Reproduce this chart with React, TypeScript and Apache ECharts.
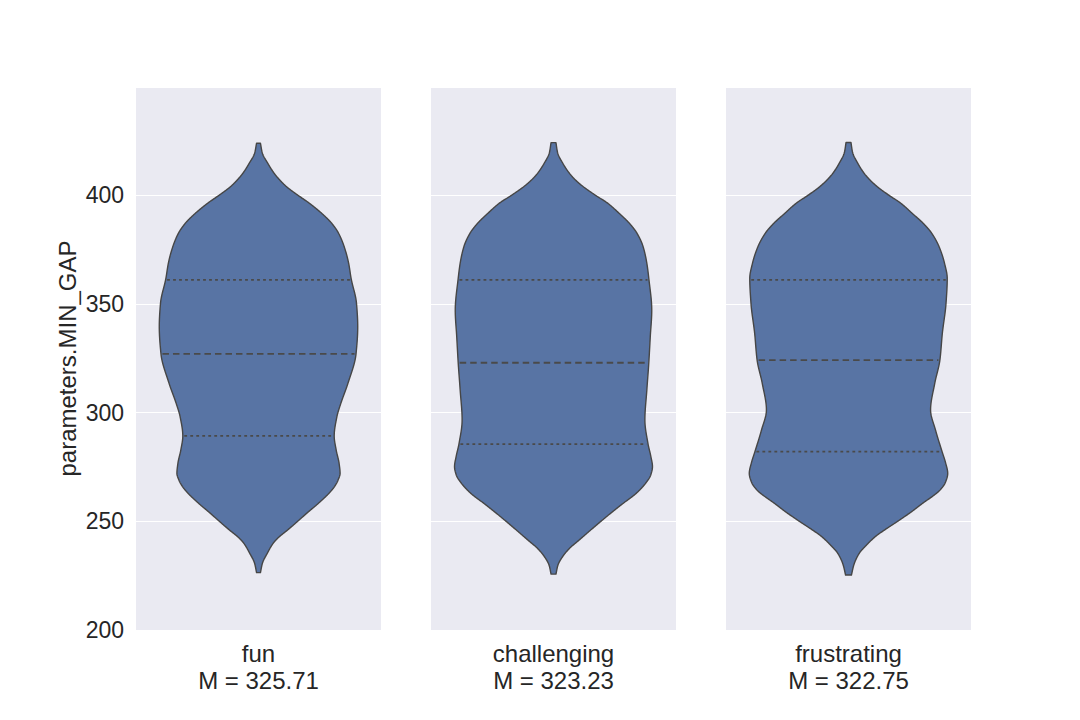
import React, { useEffect, useRef } from 'react';
import * as echarts from 'echarts';

const categories = ['fun', 'challenging', 'frustrating'];
const means = [325.71, 323.23, 322.75];
const yAxisName = 'parameters.MIN_GAP';

// violin outlines: y values and half-widths (fraction of the category band)
const funY = [226.4, 230.7, 235.3, 239.9, 242.9, 246.0, 250.3, 253.7, 258.3, 262.9, 265.9, 269.0, 272.0, 276.6, 282.8, 289.2, 298.1, 304.2, 313.4, 326.9, 339.5, 350.2, 361.7, 368.6, 376.2, 382.4, 387.0, 391.6, 396.2, 400.0, 403.8, 406.9, 410.0, 414.6, 419.2, 423.8];
const funW = [0.008, 0.016, 0.036, 0.060, 0.085, 0.119, 0.163, 0.197, 0.245, 0.288, 0.310, 0.325, 0.333, 0.329, 0.317, 0.309, 0.320, 0.336, 0.365, 0.398, 0.405, 0.400, 0.378, 0.368, 0.350, 0.327, 0.299, 0.258, 0.208, 0.160, 0.115, 0.087, 0.064, 0.038, 0.016, 0.008];

const chalY = [225.7, 229.8, 233.7, 237.5, 241.4, 245.8, 250.3, 254.3, 258.3, 262.9, 267.5, 271.3, 275.1, 280.0, 285.5, 296.6, 310.4, 322.9, 334.9, 347.0, 361.7, 368.6, 376.2, 382.4, 387.0, 391.6, 396.2, 400.0, 403.8, 406.9, 410.0, 414.6, 419.4, 424.1];
const chalW = [0.010, 0.018, 0.037, 0.065, 0.105, 0.150, 0.197, 0.240, 0.285, 0.338, 0.376, 0.397, 0.404, 0.397, 0.386, 0.373, 0.381, 0.389, 0.395, 0.401, 0.389, 0.381, 0.366, 0.341, 0.310, 0.268, 0.222, 0.170, 0.122, 0.090, 0.065, 0.038, 0.017, 0.010];

const frusY = [225.3, 230.0, 235.3, 239.0, 242.9, 246.6, 250.3, 254.3, 258.3, 261.5, 264.4, 268.0, 272.0, 277.0, 282.0, 292.0, 301.2, 313.4, 324.1, 336.4, 350.2, 361.7, 368.6, 376.2, 382.4, 387.0, 391.6, 396.2, 400.0, 403.8, 406.9, 410.0, 414.6, 419.5, 424.2];
const frusW = [0.012, 0.022, 0.044, 0.073, 0.109, 0.155, 0.205, 0.256, 0.303, 0.343, 0.374, 0.396, 0.405, 0.396, 0.382, 0.355, 0.335, 0.352, 0.373, 0.383, 0.398, 0.403, 0.392, 0.370, 0.340, 0.305, 0.260, 0.214, 0.164, 0.118, 0.088, 0.064, 0.038, 0.017, 0.010];

// quartiles: [Q1, median, Q3]
const funQ = [289.3, 327.0, 361.0];
const chalQ = [285.5, 322.9, 361.0];
const frusQ = [282.0, 324.1, 361.0];

const profilesY = [funY, chalY, frusY];
const profilesW = [funW, chalW, frusW];
const quartiles = [funQ, chalQ, frusQ];

const Y_MIN = 200;
const Y_MAX = 449.7;
const Y_INTERVAL = 50;

const FONT = '"Liberation Sans", Arial, sans-serif';
const TEXT = '#262626';
const FILL = '#5874A4';
const EDGE = '#464646';

// monotone cubic (PCHIP) evaluation of the outline, for drawing a smooth edge
function makePchip(xs: number[], ys: number[]) {
  const n = xs.length;
  const h: number[] = [];
  const d: number[] = [];
  for (let k = 0; k < n - 1; k++) {
    h.push(xs[k + 1] - xs[k]);
    d.push((ys[k + 1] - ys[k]) / (xs[k + 1] - xs[k]));
  }
  const m: number[] = new Array(n).fill(0);
  m[0] = d[0];
  m[n - 1] = d[n - 2];
  for (let k = 1; k < n - 1; k++) {
    if (d[k - 1] * d[k] <= 0) m[k] = 0;
    else {
      const w1 = 2 * h[k] + h[k - 1];
      const w2 = h[k] + 2 * h[k - 1];
      m[k] = (w1 + w2) / (w1 / d[k - 1] + w2 / d[k]);
    }
  }
  return (x: number) => {
    let k = 0;
    if (x <= xs[0]) return ys[0];
    if (x >= xs[n - 1]) return ys[n - 1];
    while (k < n - 2 && x > xs[k + 1]) k++;
    const t = (x - xs[k]) / h[k];
    const t2 = t * t;
    const t3 = t2 * t;
    return (
      (2 * t3 - 3 * t2 + 1) * ys[k] +
      (t3 - 2 * t2 + t) * h[k] * m[k] +
      (-2 * t3 + 3 * t2) * ys[k + 1] +
      (t3 - t2) * h[k] * m[k + 1]
    );
  };
}

export default function App() {
  const ref = useRef<HTMLDivElement>(null);
  useEffect(() => {
    document.body.style.margin = '0';
    const chart = echarts.init(ref.current!, undefined, { renderer: 'svg' });
    const lefts = [136, 431, 726];
    const grids = lefts.map((l) => ({
      left: l,
      top: 87,
      width: 245,
      height: 543,
      show: true,
      backgroundColor: '#EAEAF2',
      borderWidth: 0,
    }));
    const xAxes = categories.map((c, i) => ({
      type: 'category',
      gridIndex: i,
      data: [`${c}\nM = ${means[i].toFixed(2)}`],
      axisLine: { show: false },
      axisTick: { show: false },
      axisLabel: {
        color: TEXT,
        fontFamily: FONT,
        fontSize: 24,
        lineHeight: 27,
        margin: 10,
        align: 'center',
      },
    }));
    const yAxes = categories.map((c, i) => ({
      type: 'value',
      gridIndex: i,
      min: Y_MIN,
      max: Y_MAX,
      interval: Y_INTERVAL,
      name: i === 0 ? yAxisName : '',
      nameLocation: 'middle',
      nameRotate: 90,
      nameGap: 57,
      nameTextStyle: { color: TEXT, fontFamily: FONT, fontSize: 24 },
      axisLine: { show: false },
      axisTick: { show: false },
      axisLabel: {
        show: i === 0,
        color: TEXT,
        fontFamily: FONT,
        fontSize: 23,
        margin: 12,
        showMaxLabel: false,
      },
      splitLine: { show: true, lineStyle: { color: '#FFFFFF', width: 1.2 } },
    }));
    const series = categories.map((c, i) => ({
      type: 'custom',
      xAxisIndex: i,
      yAxisIndex: i,
      data: [[0, means[i]]],
      renderItem: (params: any, api: any) => {
        const band = api.size([1, 0])[0];
        const ys = profilesY[i];
        const ws = profilesW[i];
        const f = makePchip(ys, ws);
        const y0 = ys[0];
        const y1 = ys[ys.length - 1];
        const steps = Math.ceil((y1 - y0) / 0.4);
        const right: number[][] = [];
        const left: number[][] = [];
        for (let s = 0; s <= steps; s++) {
          const v = y0 + ((y1 - y0) * s) / steps;
          const p = api.coord([0, v]);
          const w = f(v) * band;
          right.push([p[0] + w, p[1]]);
          left.push([p[0] - w, p[1]]);
        }
        const pts = right.concat(left.reverse());
        const children: any[] = [
          {
            type: 'polygon',
            shape: { points: pts },
            style: { fill: FILL, stroke: EDGE, lineWidth: 1.4, lineJoin: 'round' },
          },
        ];
        quartiles[i].forEach((q, qi) => {
          const p = api.coord([0, q]);
          const hw = f(q) * band - 1.5;
          children.push({
            type: 'line',
            shape: { x1: p[0] - hw, y1: p[1], x2: p[0] + hw, y2: p[1] },
            style: {
              stroke: '#4A4A4A',
              lineWidth: 1.8,
              lineDash: qi === 1 ? [6.5, 4] : [2.8, 3.2],
            },
          });
        });
        return { type: 'group', children };
      },
    }));
    chart.setOption({
      animation: false,
      backgroundColor: '#FFFFFF',
      grid: grids,
      xAxis: xAxes,
      yAxis: yAxes,
      series,
    });
    return () => chart.dispose();
  }, []);
  return <div ref={ref} style={{ width: 1080, height: 720 }} />;
}
